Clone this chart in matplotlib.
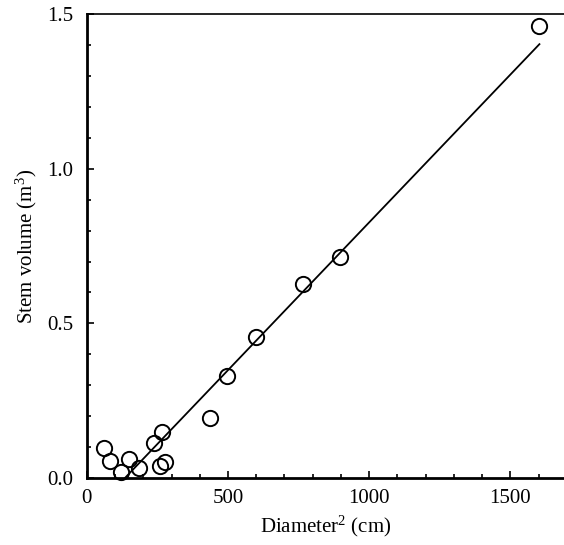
import matplotlib
matplotlib.use("Agg")
import matplotlib.pyplot as plt
from matplotlib.ticker import MultipleLocator

# diameter^2 (cm) vs stem volume (m^3)
diam_sq = [62, 81, 120, 148, 186, 239, 266, 259, 277, 435, 495, 598, 765, 895, 1603]
volume = [0.097, 0.055, 0.020, 0.061, 0.032, 0.113, 0.148, 0.039, 0.053, 0.194,
          0.329, 0.455, 0.626, 0.716, 1.461]

# regression line end points
fit_x = [135, 1603]
fit_y = [0.0, 1.403]

plt.rcParams["font.family"] = ["Liberation Serif", "DejaVu Serif"]
plt.rcParams["mathtext.fontset"] = "custom"
plt.rcParams["mathtext.rm"] = "Liberation Serif"

fig = plt.figure(figsize=(5.64, 5.45), dpi=100)
ax = fig.add_axes([0.154, 0.123, 0.846, 0.851])

ax.plot(fit_x, fit_y, color="black", lw=1.3, zorder=2)
ax.plot(diam_sq, volume, "o", ms=11, mfc="none", mec="black", mew=1.4,
        clip_on=False, zorder=3)

ax.set_xlim(0, 1690)
ax.set_ylim(0, 1.5)
ax.xaxis.set_major_locator(MultipleLocator(500))
ax.xaxis.set_minor_locator(MultipleLocator(100))
ax.yaxis.set_major_locator(MultipleLocator(0.5))
ax.yaxis.set_minor_locator(MultipleLocator(0.1))
ax.yaxis.set_major_formatter(plt.FuncFormatter(lambda v, p: f"{v:.1f}"))

ax.tick_params(which="both", direction="in", top=False, right=False,
               labelsize=15, width=1.2)
ax.tick_params(which="major", length=5)
ax.tick_params(which="minor", length=3)
ax.tick_params(axis="y", which="major", pad=10)
ax.tick_params(axis="x", which="major", pad=8)

ax.spines["right"].set_visible(False)
ax.spines["left"].set_linewidth(2.0)
ax.spines["bottom"].set_linewidth(2.0)
ax.spines["top"].set_linewidth(1.2)

ax.set_xlabel("Diameter$\\mathregular{^2}$ (cm)", fontsize=15, labelpad=4)
ax.set_ylabel("Stem volume (m$\\mathregular{^3}$)", fontsize=15, labelpad=6)

fig.savefig("out.png", dpi=100)
